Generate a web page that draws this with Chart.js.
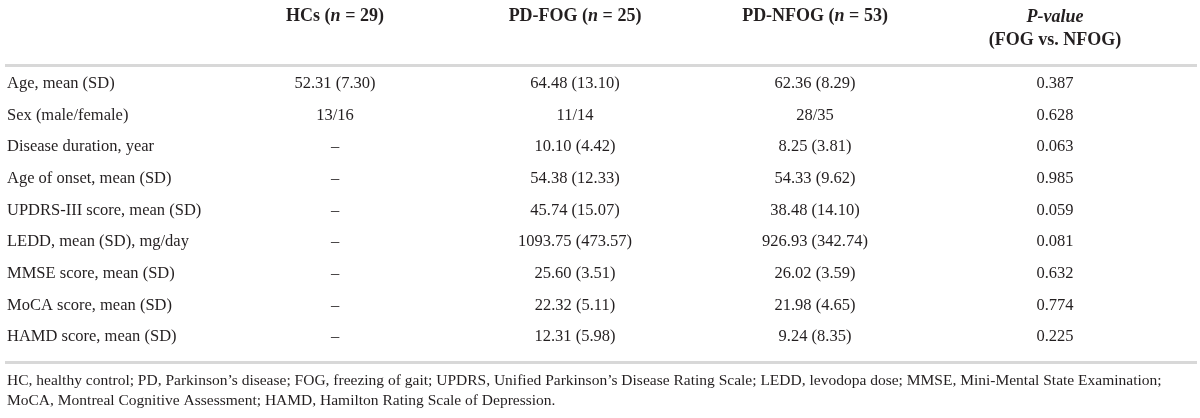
<!DOCTYPE html>
<html>
<head>
<meta charset="utf-8">
<script src="https://cdn.jsdelivr.net/npm/chart.js@4.4.1/dist/chart.umd.min.js"></script>
<style>
  html, body { margin: 0; padding: 0; background: #fff; }
  #wrap { width: 1200px; height: 418px; }
</style>
</head>
<body>
<div id="wrap"><canvas id="table"></canvas></div>
<script>
const rowLabels = [
  'Age, mean (SD)',
  'Sex (male/female)',
  'Disease duration, year',
  'Age of onset, mean (SD)',
  'UPDRS-III score, mean (SD)',
  'LEDD, mean (SD), mg/day',
  'MMSE score, mean (SD)',
  'MoCA score, mean (SD)',
  'HAMD score, mean (SD)'
]
const groups = ['HCs', 'PD-FOG', 'PD-NFOG', 'P-value']
const groupN = [29, 25, 53]
const hcValues = ['52.31 (7.30)', '13/16', '–', '–', '–', '–', '–', '–', '–']
const fogValues = ['64.48 (13.10)', '11/14', '10.10 (4.42)', '54.38 (12.33)', '45.74 (15.07)',
  '1093.75 (473.57)', '25.60 (3.51)', '22.32 (5.11)', '12.31 (5.98)']
const nfogValues = ['62.36 (8.29)', '28/35', '8.25 (3.81)', '54.33 (9.62)', '38.48 (14.10)',
  '926.93 (342.74)', '26.02 (3.59)', '21.98 (4.65)', '9.24 (8.35)']
const pValues = ['0.387', '0.628', '0.063', '0.985', '0.059', '0.081', '0.632', '0.774', '0.225']
const notes = [
  'HC, healthy control; PD, Parkinson\u2019s disease; FOG, freezing of gait; UPDRS, Unified Parkinson\u2019s Disease Rating Scale; LEDD, levodopa dose; MMSE, Mini-Mental State Examination;',
  'MoCA, Montreal Cognitive Assessment; HAMD, Hamilton Rating Scale of Depression.'
]

const columns = [hcValues, fogValues, nfogValues, pValues]
const serif = "'Liberation Serif', 'DejaVu Serif', serif"
const ink = '#231f20'
const ruleColor = '#d8d8d8'

function drawParts(ctx, parts, cx, y) {
  let total = 0
  parts.forEach(p => { ctx.font = p.font; total += ctx.measureText(p.text).width })
  let x = cx - total / 2
  parts.forEach(p => {
    ctx.font = p.font
    ctx.fillText(p.text, x, y)
    x += ctx.measureText(p.text).width
  })
}

const tablePlugin = {
  id: 'tablePlugin',
  afterDatasetsDraw(chart) {
    const ctx = chart.ctx
    ctx.save()
    ctx.fillStyle = ink
    ctx.textAlign = 'center'
    ctx.textBaseline = 'middle'
    ctx.font = '16.5px ' + serif
    chart.data.datasets.forEach((ds, di) => {
      const meta = chart.getDatasetMeta(di)
      meta.data.forEach((pt, i) => {
        ctx.fillText(ds.cells[i], pt.x, pt.y)
      })
    })
    ctx.restore()
  },
  afterDraw(chart) {
    const ctx = chart.ctx
    const area = chart.chartArea
    const xs = chart.scales.x
    ctx.save()
    ctx.fillStyle = ink
    ctx.textAlign = 'left'
    ctx.textBaseline = 'middle'
    const bold = 'bold 18px ' + serif
    const boldIt = 'italic bold 18px ' + serif
    groups.forEach((g, i) => {
      const cx = xs.getPixelForValue(i)
      if (i < groupN.length) {
        drawParts(ctx, [
          { text: g + ' (', font: bold },
          { text: 'n', font: boldIt },
          { text: ' = ' + groupN[i] + ')', font: bold }
        ], cx, 16)
      } else {
        drawParts(ctx, [{ text: g, font: boldIt }], cx, 17)
        drawParts(ctx, [{ text: '(FOG vs. NFOG)', font: bold }], cx, 40)
      }
    })
    // rules above and below the body
    ctx.fillStyle = ruleColor
    ctx.fillRect(5, area.top - 4, 1192, 3)
    ctx.fillRect(5, area.bottom + 8, 1192, 3)
    // footnote
    ctx.fillStyle = ink
    ctx.font = '15.5px ' + serif
    ctx.fillText(notes[0], 7, 381)
    ctx.fillText(notes[1], 7, 401)
    ctx.restore()
  }
}

const datasets = columns.map((col, ci) => ({
  label: groups[ci],
  cells: col,
  data: col.map((v, ri) => ({ x: groups[ci], y: rowLabels[ri] })),
  pointRadius: 0,
  pointHoverRadius: 0,
  showLine: false
}))

new Chart(document.getElementById('table'), {
  type: 'scatter',
  data: { datasets },
  options: {
    responsive: true,
    maintainAspectRatio: false,
    animation: false,
    events: [],
    layout: { padding: { left: 7, right: 25, top: 68, bottom: 65 } },
    plugins: { legend: { display: false }, tooltip: { enabled: false } },
    scales: {
      x: {
        type: 'category',
        labels: groups,
        offset: true,
        display: false
      },
      y: {
        type: 'category',
        labels: rowLabels,
        offset: true,
        grid: { display: false },
        border: { display: false },
        afterFit(scale) { scale.width = 208 },
        ticks: {
          autoSkip: false,
          crossAlign: 'far',
          padding: 0,
          color: ink,
          font: { family: serif, size: 16.5 }
        }
      }
    }
  },
  plugins: [tablePlugin]
})
</script>
</body>
</html>
